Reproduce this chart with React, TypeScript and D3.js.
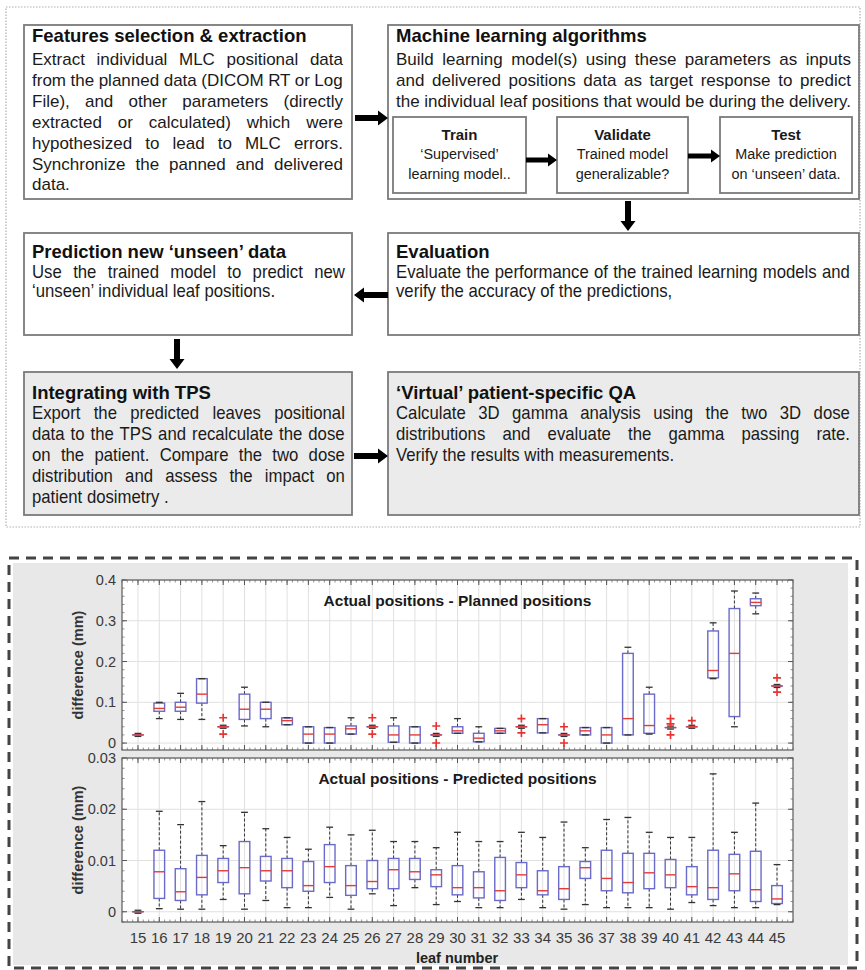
import React from "react";
import * as d3 from "d3";

// leaf numbers (x categories)
const leaves = [15, 16, 17, 18, 19, 20, 21, 22, 23, 24, 25, 26, 27, 28, 29, 30, 31, 32, 33, 34, 35, 36, 37, 38, 39, 40, 41, 42, 43, 44, 45];

// Actual - Planned (mm): whisker low, q1, median, q3, whisker high, outliers
const planLo = [0.02, 0.06, 0.058, 0.058, 0.04, 0.042, 0.04, 0.045, 0, 0, 0.022, 0.04, 0.002, 0, 0.02, 0.024, 0.003, 0.024, 0.04, 0.025, 0.02, 0.02, 0, 0.02, 0.022, 0.038, 0.04, 0.158, 0.04, 0.317, 0.14];
const planQ1 = [0.02, 0.078, 0.078, 0.098, 0.04, 0.058, 0.06, 0.045, 0, 0, 0.022, 0.04, 0.002, 0, 0.02, 0.024, 0.003, 0.024, 0.04, 0.025, 0.02, 0.02, 0, 0.02, 0.024, 0.038, 0.04, 0.16, 0.065, 0.337, 0.14];
const planMed = [0.02, 0.085, 0.088, 0.12, 0.04, 0.083, 0.083, 0.055, 0.022, 0.022, 0.035, 0.04, 0.02, 0.02, 0.02, 0.03, 0.012, 0.03, 0.04, 0.045, 0.02, 0.03, 0.02, 0.06, 0.043, 0.038, 0.04, 0.178, 0.22, 0.345, 0.14];
const planQ3 = [0.02, 0.098, 0.1, 0.158, 0.04, 0.12, 0.1, 0.062, 0.04, 0.038, 0.042, 0.04, 0.042, 0.04, 0.02, 0.04, 0.024, 0.036, 0.04, 0.06, 0.02, 0.038, 0.038, 0.22, 0.12, 0.038, 0.04, 0.275, 0.33, 0.354, 0.14];
const planHi = [0.02, 0.1, 0.122, 0.158, 0.04, 0.137, 0.1, 0.062, 0.04, 0.038, 0.062, 0.04, 0.062, 0.04, 0.02, 0.06, 0.04, 0.036, 0.04, 0.06, 0.02, 0.038, 0.038, 0.235, 0.137, 0.038, 0.04, 0.295, 0.373, 0.368, 0.14];
const planOut = [[], [], [], [], [0.062, 0.022], [], [], [], [], [], [], [0.062, 0.022], [], [], [0.042, 0], [], [], [], [0.06, 0.025], [], [0.04, 0], [], [], [], [], [0.06, 0.047, 0.02], [0.055], [], [], [], [0.16, 0.125]];

// Actual - Predicted (mm)
const predLo = [0, 0.0006, 0.0005, 0.0005, 0.0024, 0.0005, 0.0022, 0.0008, 0.0008, 0.0028, 0.0005, 0.0035, 0.0012, 0.0047, 0.0014, 0.002, 0.0008, 0.0008, 0.0024, 0.0008, 0.0005, 0.0014, 0.0008, 0.0008, 0.0008, 0.0005, 0.0018, 0.0012, 0.0008, 0.0008, 0.0014];
const predQ1 = [0, 0.0026, 0.0022, 0.0033, 0.0057, 0.0035, 0.006, 0.0047, 0.004, 0.0057, 0.0032, 0.0045, 0.0045, 0.0063, 0.0049, 0.0033, 0.0027, 0.0022, 0.0047, 0.0033, 0.0024, 0.0065, 0.0041, 0.0037, 0.0045, 0.0047, 0.0033, 0.0024, 0.0041, 0.002, 0.0016];
const predMed = [0, 0.0078, 0.0039, 0.0067, 0.008, 0.0086, 0.008, 0.008, 0.0051, 0.0088, 0.0051, 0.0059, 0.0082, 0.0078, 0.0072, 0.0047, 0.0047, 0.0041, 0.0072, 0.0041, 0.0045, 0.0086, 0.0065, 0.0057, 0.0076, 0.0072, 0.0049, 0.0047, 0.0074, 0.0043, 0.0025];
const predQ3 = [0, 0.012, 0.0084, 0.011, 0.0104, 0.0137, 0.0108, 0.0104, 0.0098, 0.0131, 0.009, 0.01, 0.0104, 0.0104, 0.0082, 0.009, 0.0078, 0.0106, 0.0096, 0.008, 0.0088, 0.0098, 0.012, 0.0114, 0.0114, 0.0102, 0.0088, 0.012, 0.0112, 0.0118, 0.0051];
const predHi = [0, 0.0196, 0.017, 0.0215, 0.0129, 0.0194, 0.0162, 0.0145, 0.0122, 0.0165, 0.015, 0.0159, 0.0137, 0.0137, 0.0125, 0.0155, 0.0137, 0.0137, 0.0155, 0.0145, 0.0175, 0.0125, 0.018, 0.0184, 0.0155, 0.0145, 0.0145, 0.0269, 0.0155, 0.0212, 0.0092];

const planTicks = [0, 0.1, 0.2, 0.3, 0.4];
const predTicks = [0, 0.01, 0.02, 0.03];

// flowchart texts
const featLines = [
  "Extract individual MLC positional data",
  "from the planned data (DICOM RT or Log",
  "File), and other parameters (directly",
  "extracted or calculated) which were",
  "hypothesized to lead to MLC errors.",
  "Synchronize the panned and delivered",
  "data.",
];
const mlLines = [
  "Build learning model(s) using these parameters as inputs",
  "and delivered positions data as target response to predict",
  "the individual leaf positions that would be during the delivery.",
];
const predictLines = ["Use the trained model to predict new", "\u2018unseen\u2019 individual leaf positions."];
const evalLines = ["Evaluate the performance of the trained learning models and", "verify the accuracy of the predictions,"];
const tpsLines = [
  "Export the predicted leaves positional",
  "data to the TPS and recalculate the dose",
  "on the patient. Compare the two dose",
  "distribution and assess the impact on",
  "patient dosimetry .",
];
const qaLines = [
  "Calculate 3D gamma analysis using the two 3D dose",
  "distributions and evaluate the gamma passing rate.",
  "Verify the results with measurements.",
];
const subBoxes = [
  { title: "Train", lines: ["\u2018Supervised\u2019", "learning model.."] },
  { title: "Validate", lines: ["Trained model", "generalizable?"] },
  { title: "Test", lines: ["Make prediction", "on \u2018unseen\u2019 data."] },
];

const FONT = '"Liberation Sans", Arial, sans-serif';

let ctx: any = null;
function measure(t: string, size: number, weight: string) {
  if (!ctx) ctx = document.createElement("canvas").getContext("2d");
  ctx.font = `${weight} ${size}px "Liberation Sans"`;
  return ctx.measureText(t).width;
}

function Para({ x, y, width, lines, size, lh, k = 1, justifyAll = false }: any) {
  return (
    <g transform={`translate(${x},${y}) scale(${k},1)`}>
      {lines.map((ln: string, i: number) => {
        const last = i === lines.length - 1;
        const spaces = (ln.match(/ /g) || []).length;
        let ws = 0;
        if ((!last || justifyAll) && spaces > 0) ws = (width / k - measure(ln, size, "normal")) / spaces;
        return (
          <text key={i} x={0} y={i * lh} fontSize={size} fill="#1a1a1a" wordSpacing={ws}>
            {ln}
          </text>
        );
      })}
    </g>
  );
}

function Arrow({ x1, y1, x2, y2, w = 6, hl = 10, hw = 15 }: any) {
  const L = Math.hypot(x2 - x1, y2 - y1);
  const ux = (x2 - x1) / L, uy = (y2 - y1) / L;
  const px = -uy, py = ux;
  const bx = x2 - ux * hl, by = y2 - uy * hl;
  const pts = [
    [x1 + (px * w) / 2, y1 + (py * w) / 2],
    [bx + (px * w) / 2, by + (py * w) / 2],
    [bx + (px * hw) / 2, by + (py * hw) / 2],
    [x2, y2],
    [bx - (px * hw) / 2, by - (py * hw) / 2],
    [bx - (px * w) / 2, by - (py * w) / 2],
    [x1 - (px * w) / 2, y1 - (py * w) / 2],
  ];
  return <polygon points={pts.map((p) => p.join(",")).join(" ")} fill="#000" />;
}

function Box({ x, y, w, h, fill = "#fff" }: any) {
  return <rect x={x} y={y} width={w} height={h} fill={fill} stroke="#7a7a7a" strokeWidth={1.8} />;
}

const xScale = d3.scaleLinear().domain([14.25, 45.75]).range([122, 793]);

function BoxPlot({ top, bottom, domain, ticks, minor, title, titleY, lo, q1, med, q3, hi, out }: any) {
  const x = xScale;
  const y = d3.scaleLinear().domain(domain).range([bottom, top]);
  const band = x(1) - x(0);
  const hb = band * 0.25;
  const hc = band * 0.16;
  const [x0, x1] = x.range();
  const minorY = d3.range(Math.ceil(domain[0] / minor) * minor, domain[1] + minor / 2, minor);
  const minorX = d3.range(14.25, 45.76, 0.25);
  return (
    <g>
      <rect x={x0} y={top} width={x1 - x0} height={bottom - top} fill="#fff" />
      {leaves.map((l) => (
        <line key={"gx" + l} x1={x(l)} x2={x(l)} y1={top} y2={bottom} stroke="#e0e0e0" strokeWidth={1} />
      ))}
      {ticks.map((t: number) => (
        <line key={"gy" + t} x1={x0} x2={x1} y1={y(t)} y2={y(t)} stroke="#e0e0e0" strokeWidth={1} />
      ))}
      {/* minor ticks */}
      {minorY.map((t: number, i: number) => (
        <g key={"my" + i} stroke="#777" strokeWidth={0.8}>
          <line x1={x0} x2={x0 + 2.5} y1={y(t)} y2={y(t)} />
          <line x1={x1} x2={x1 - 2.5} y1={y(t)} y2={y(t)} />
        </g>
      ))}
      {minorX.map((t: number, i: number) => (
        <g key={"mx" + i} stroke="#777" strokeWidth={0.8}>
          <line x1={x(t)} x2={x(t)} y1={bottom} y2={bottom - 2.5} />
          <line x1={x(t)} x2={x(t)} y1={top} y2={top + 2.5} />
        </g>
      ))}
      {leaves.map((l) => (
        <g key={"tx" + l} stroke="#555" strokeWidth={1}>
          <line x1={x(l)} x2={x(l)} y1={bottom} y2={bottom - 5} />
          <line x1={x(l)} x2={x(l)} y1={top} y2={top + 5} />
        </g>
      ))}
      {ticks.map((t: number) => (
        <g key={"ty" + t}>
          <line x1={x0} x2={x0 + 5} y1={y(t)} y2={y(t)} stroke="#555" />
          <line x1={x1} x2={x1 - 5} y1={y(t)} y2={y(t)} stroke="#555" />
          <text x={x0 - 6} y={y(t) + 5} textAnchor="end" fontSize={14.5} fill="#3a3a3a">
            {String(t)}
          </text>
        </g>
      ))}
      <text x={(x0 + x1) / 2} y={titleY} textAnchor="middle" fontSize={15.5} fontWeight="bold" fill="#1a1a1a">
        {title}
      </text>
      {leaves.map((l, i) => {
        const cx = x(l);
        const flat = q1[i] === q3[i];
        return (
          <g key={"b" + l}>
            <line x1={cx} x2={cx} y1={y(q3[i])} y2={y(hi[i])} stroke="#333" strokeWidth={1} strokeDasharray="3,2" />
            <line x1={cx} x2={cx} y1={y(q1[i])} y2={y(lo[i])} stroke="#333" strokeWidth={1} strokeDasharray="3,2" />
            <rect x={cx - hb} y={y(q3[i])} width={hb * 2} height={Math.max(0.01, y(q1[i]) - y(q3[i]))} fill="none" stroke="#6a6acb" strokeWidth={1.4} />
            <line x1={cx - hb} x2={cx + hb} y1={y(med[i])} y2={y(med[i])} stroke="#e23b3b" strokeWidth={1.4} />
            <line x1={cx - hc} x2={cx + hc} y1={y(hi[i]) - (flat ? 1.5 : 0)} y2={y(hi[i]) - (flat ? 1.5 : 0)} stroke="#333" strokeWidth={1.3} />
            <line x1={cx - hc} x2={cx + hc} y1={y(lo[i]) + (flat ? 1.5 : 0)} y2={y(lo[i]) + (flat ? 1.5 : 0)} stroke="#333" strokeWidth={1.3} />
            {out[i].map((o: number, j: number) => (
              <path key={j} d={`M${cx - 4},${y(o)}H${cx + 4}M${cx},${y(o) - 4}V${y(o) + 4}`} stroke="#e8322f" strokeWidth={1.6} />
            ))}
          </g>
        );
      })}
      <rect x={x0} y={top} width={x1 - x0} height={bottom - top} fill="none" stroke="#666" strokeWidth={1.3} />
      <text transform={`translate(83,${(top + bottom) / 2}) rotate(-90)`} textAnchor="middle" fontSize={14.5} fontWeight="bold" fill="#333">
        difference (mm)
      </text>
    </g>
  );
}

export default function App() {
  const subX = [393, 557, 720];
  const subW = [133, 131, 132];
  return (
    <svg width={865} height={970} fontFamily={FONT} style={{ position: "absolute", left: 0, top: 0, background: "#fff", display: "block" }}>
      {/* flowchart */}
      <rect x={6} y={7} width={854} height={520} fill="none" stroke="#b0b0b0" strokeWidth={1.2} strokeDasharray="1.5,1.5" />

      <Box x={24} y={25} w={328} h={174} />
      <text x={32} y={42} fontSize={18.5} fontWeight="bold" fill="#111">Features selection &amp; extraction</text>
      <Para x={32} y={65} width={311} lines={featLines} size={17} lh={20.9} />

      <Box x={388} y={25} w={471} h={174} />
      <text x={396} y={42} fontSize={18.5} fontWeight="bold" fill="#111">Machine learning algorithms</text>
      <Para x={396} y={65} width={455} lines={mlLines} size={17} lh={20.9} justifyAll />
      {subBoxes.map((s, i) => {
        const cx = subX[i] + subW[i] / 2;
        return (
          <g key={s.title}>
            <Box x={subX[i]} y={117} w={subW[i]} h={76} />
            <text x={cx} y={139.5} textAnchor="middle" fontSize={15} fontWeight="bold" fill="#1a1a1a">{s.title}</text>
            {s.lines.map((ln, j) => (
              <g key={j} transform={`translate(${cx},${159 + j * 19.5}) scale(0.93,1)`}>
                <text x={0} y={0} textAnchor="middle" fontSize={15.5} fill="#1a1a1a">{ln}</text>
              </g>
            ))}
          </g>
        );
      })}
      <Arrow x1={355} y1={118} x2={388} y2={118} />
      <Arrow x1={526} y1={160} x2={557} y2={160} w={5} hl={9} hw={13} />
      <Arrow x1={688} y1={156} x2={720} y2={156} w={5} hl={9} hw={13} />
      <Arrow x1={628} y1={201} x2={628} y2={231} />

      <Box x={24} y={233} w={328} h={102} />
      <text x={32} y={258} fontSize={18.5} fontWeight="bold" fill="#111">Prediction new {"\u2018unseen\u2019"} data</text>
      <Para x={32} y={278} width={313} lines={predictLines} size={18} lh={19} k={0.93} />

      <Box x={388} y={233} w={471} h={102} />
      <text x={396} y={258} fontSize={18.5} fontWeight="bold" fill="#111">Evaluation</text>
      <Para x={396} y={278} width={454} lines={evalLines} size={18} lh={19} k={0.93} />
      <Arrow x1={388} y1={295} x2={354} y2={295} />
      <Arrow x1={177} y1={339} x2={177} y2={369} />

      <Box x={24} y={372} w={328} h={143} fill="#ebebeb" />
      <text x={32} y={399} fontSize={18.5} fontWeight="bold" fill="#111">Integrating with TPS</text>
      <Para x={32} y={419} width={313} lines={tpsLines} size={18} lh={21} k={0.93} />

      <Box x={388} y={372} w={471} h={143} fill="#ebebeb" />
      <text x={396} y={399} fontSize={18.5} fontWeight="bold" fill="#111">{"\u2018Virtual\u2019"} patient-specific QA</text>
      <Para x={396} y={419} width={454} lines={qaLines} size={18} lh={21} k={0.93} />
      <Arrow x1={354} y1={456} x2={388} y2={456} />

      {/* box plots panel */}
      <rect x={13} y={563} width={835} height={402} fill="#e8e8e8" />
      <rect x={9} y={558} width={848} height={410} fill="none" stroke="#444" strokeWidth={3} strokeDasharray="10,7" />

      <BoxPlot top={580} bottom={750} domain={[-0.017, 0.4]} ticks={planTicks} minor={0.02}
        title="Actual positions - Planned positions" titleY={606}
        lo={planLo} q1={planQ1} med={planMed} q3={planQ3} hi={planHi} out={planOut} />
      <BoxPlot top={758} bottom={922} domain={[-0.002, 0.03]} ticks={predTicks} minor={0.002}
        title="Actual positions - Predicted positions" titleY={784}
        lo={predLo} q1={predQ1} med={predMed} q3={predQ3} hi={predHi} out={leaves.map(() => [])} />

      {leaves.map((l) => (
        <text key={"xl" + l} x={xScale(l)} y={943} textAnchor="middle" fontSize={15} fill="#3a3a3a">{l}</text>
      ))}
      <text x={457} y={963} textAnchor="middle" fontSize={14.5} fontWeight="bold" fill="#222">leaf number</text>
    </svg>
  );
}
